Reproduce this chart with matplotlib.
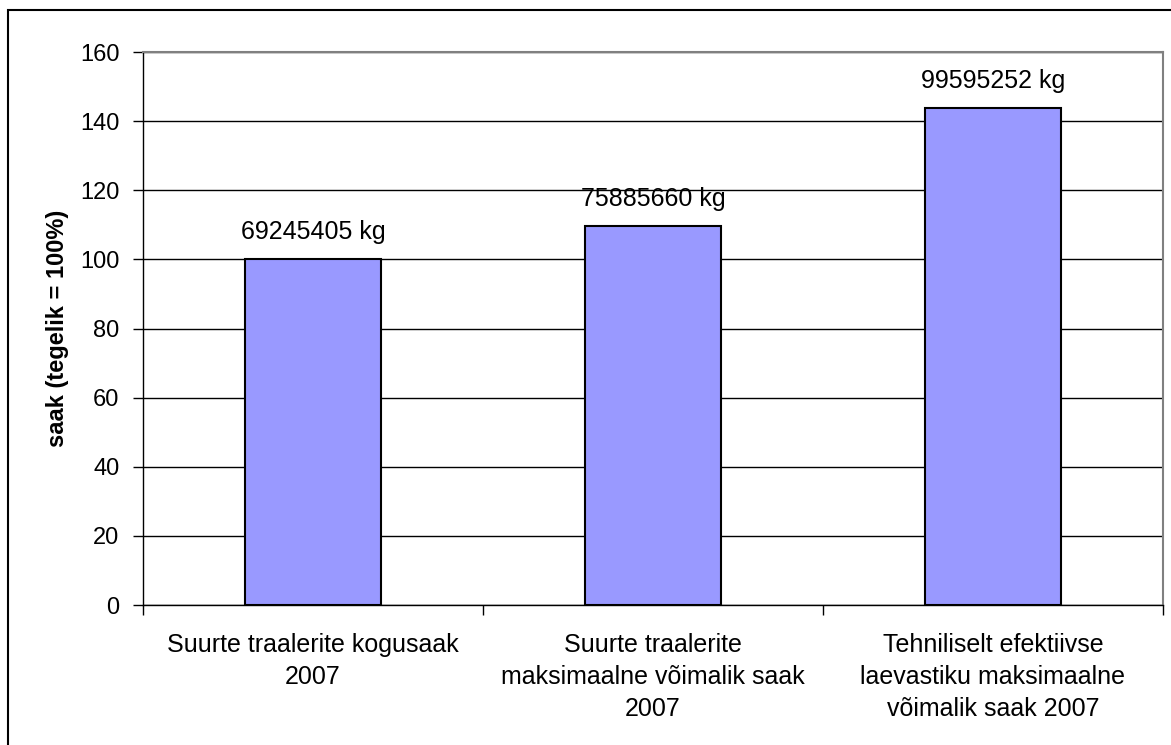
import matplotlib.pyplot as plt
from matplotlib.patches import Rectangle

categories = ['Suurte traalerite kogusaak\n2007',
              'Suurte traalerite\nmaksimaalne võimalik saak\n2007',
              'Tehniliselt efektiivse\nlaevastiku maksimaalne\nvõimalik saak 2007']
kg_values = [69245405, 75885660, 99595252]
percent = [100.0, 109.6, 143.8]
y_ticks = [0, 20, 40, 60, 80, 100, 120, 140, 160]

plt.rcParams['font.family'] = ['Liberation Sans', 'DejaVu Sans']
W, H = 1171, 745
fig = plt.figure(figsize=(W / 100, H / 100), dpi=100)
ax = fig.add_axes([143 / W, 1 - 605 / H, (1163 - 143) / W, (605 - 52) / H])

# outer chart border (runs off the bottom/right of the picture)
fig.patches.append(Rectangle((8 / W, -0.1), 1.2, 1 - 10 / H + 0.1, transform=fig.transFigure,
                             fill=False, edgecolor='black', linewidth=1.5))

x = list(range(len(categories)))
ax.bar(x, percent, width=0.4, color='#9999FF', edgecolor='black', linewidth=1.5, zorder=3)
for xi, v, kg in zip(x, percent, kg_values):
    ax.annotate(f'{kg} kg', (xi, v), xytext=(0, 11), textcoords='offset points',
                ha='center', va='bottom', fontsize=18)

ax.set_xlim(-0.5, 2.5)
ax.set_ylim(0, 160)
ax.set_yticks(y_ticks)
ax.set_yticklabels([str(t) for t in y_ticks], fontsize=17)
ax.yaxis.grid(True, color='black', linewidth=1)
ax.set_axisbelow(True)

ax.set_xticks([-0.5, 0.5, 1.5, 2.5])
ax.set_xticklabels([])
ax.set_xticks(x, minor=True)
ax.set_xticklabels(categories, minor=True, fontsize=18, linespacing=1.42)
ax.tick_params(axis='x', which='minor', length=0, pad=20)
ax.tick_params(axis='x', which='major', length=7, direction='out', width=1)
ax.tick_params(axis='y', length=7, direction='out', width=1, pad=10)

for s in ['top', 'right']:
    ax.spines[s].set_color('#808080')
    ax.spines[s].set_linewidth(1.5)
ax.spines['left'].set_linewidth(1)
ax.spines['bottom'].set_linewidth(1)

ax.set_ylabel('saak (tegelik = 100%)', fontsize=17, fontweight='bold', labelpad=8)

plt.savefig('out.png', dpi=100)
